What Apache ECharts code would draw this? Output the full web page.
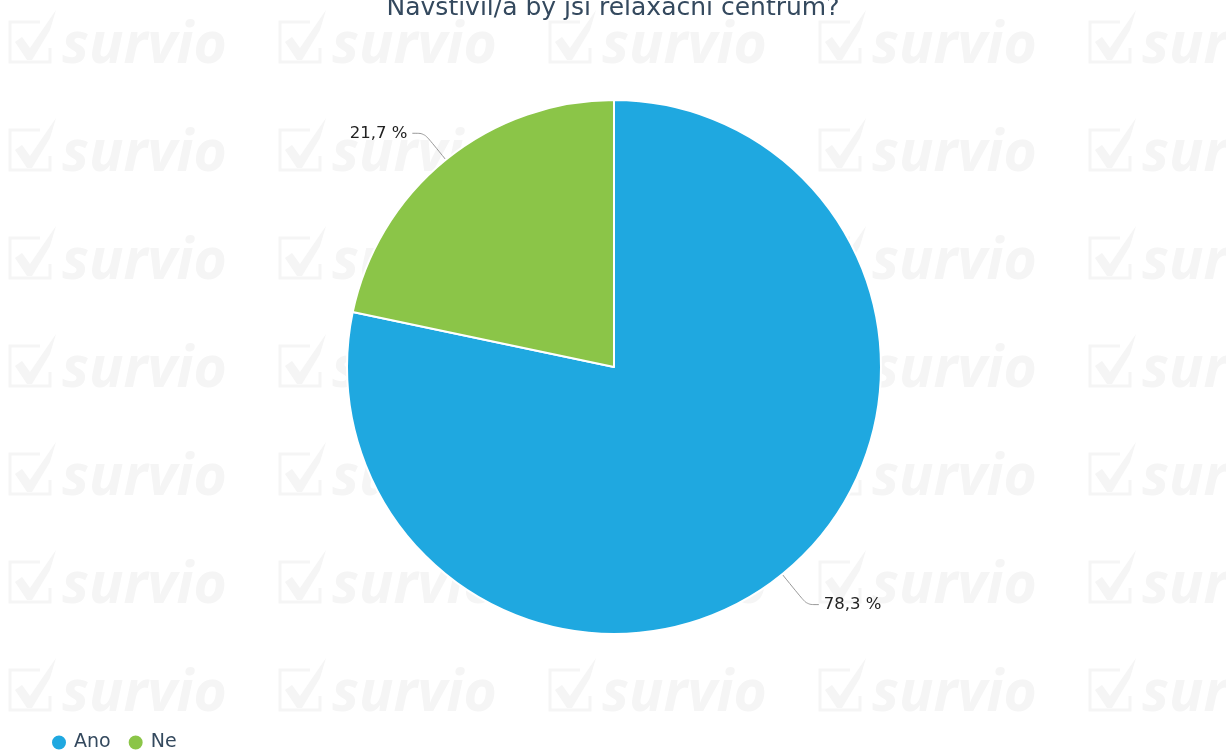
<!DOCTYPE html>
<html>
<head>
<meta charset="utf-8">
<script src="https://cdn.jsdelivr.net/npm/echarts@6/dist/echarts.min.js"></script>
<style>
    html, body { margin: 0; padding: 0; background: #fff; }
    #chart { width: 1226px; height: 751px; }
</style>
</head>
<body>
<div id="chart"></div>
<script>
    // data
    var categories = ['Ano', 'Ne'];
    var values = [78.3, 21.7];
    var colors = ['#1fa8e0', '#8bc548'];
    var titleText = 'Navštívil/a by jsi relaxační centrum?';

    var FONT = '"DejaVu Sans", Verdana, sans-serif';
    var WM = '#f5f5f5';
    var lineLen = [39, 34];

    // watermark tiles (survio logo)
    function logo(x, y) {
        return {
            type: 'group',
            x: x,
            y: y,
            silent: true,
            children: [
                {
                    type: 'polyline',
                    shape: { points: [[30, 0], [0, 0], [0, 40], [40, 40], [40, 26]] },
                    style: { stroke: WM, lineWidth: 3, fill: null }
                },
                {
                    type: 'polygon',
                    shape: { points: [[5, 20], [12, 15], [20, 26], [46, -12], [40, 8], [22, 38], [17, 38]] },
                    style: { fill: WM }
                },
                {
                    type: 'text',
                    style: {
                        x: 52, y: 53,
                        text: 'survio',
                        font: 'italic bold 57px "Open Sans"',
                        fill: WM,
                        textVerticalAlign: 'bottom'
                    }
                }
            ]
        };
    }
    var marks = [];
    for (var c = 0; c < 5; c++) {
        for (var r = 0; r < 7; r++) {
            marks.push(logo(10 + c * 270, 22 + r * 108));
        }
    }

    var myChart = echarts.init(document.getElementById('chart'));
    myChart.setOption({
        backgroundColor: '#fff',
        animation: false,
        color: colors,
        graphic: marks,
        title: {
            text: titleText,
            left: 'center',
            top: -9,
            textStyle: {
                fontFamily: FONT,
                fontSize: 25,
                fontWeight: 'normal',
                color: '#34495e'
            }
        },
        legend: {
            left: 45,
            bottom: -6,
            icon: 'circle',
            itemWidth: 20,
            itemHeight: 16,
            itemGap: 16,
            data: categories,
            textStyle: {
                fontFamily: FONT,
                fontSize: 19,
                color: '#34495e'
            }
        },
        series: [{
            type: 'pie',
            center: [614, 367],
            radius: 267,
            startAngle: 90,
            clockwise: true,
            data: categories.map(function (name, i) {
                return { name: name, value: values[i], labelLine: { length: lineLen[i] } };
            }),
            itemStyle: { borderColor: '#fff', borderWidth: 2 },
            label: {
                fontFamily: FONT,
                fontSize: 16.5,
                color: '#222',
                formatter: function (p) {
                    return p.value.toFixed(1).replace('.', ',') + ' %';
                }
            },
            labelLine: {
                length2: 12,
                smooth: true,
                lineStyle: { color: '#999', width: 1 }
            },
            emphasis: { disabled: true }
        }]
    });
    window.addEventListener('resize', function () {
        myChart.resize();
    });
</script>
</body>
</html>
